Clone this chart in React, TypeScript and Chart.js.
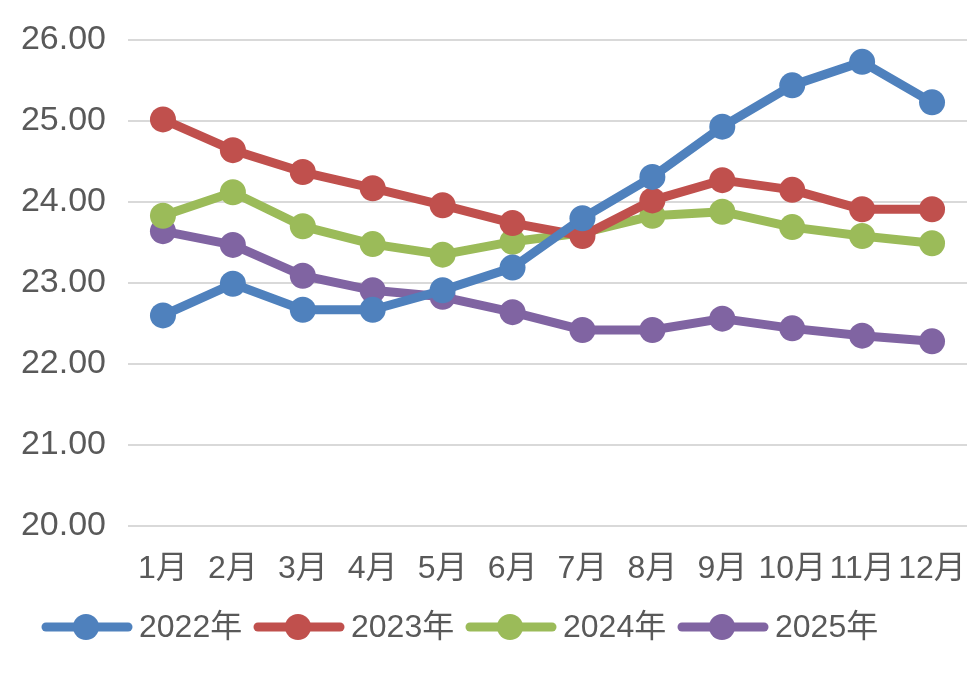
import React, { useEffect, useRef } from "react";
import { Chart, registerables } from "chart.js";
Chart.register(...registerables);

const categories = ["1月", "2月", "3月", "4月", "5月", "6月", "7月", "8月", "9月", "10月", "11月", "12月"];
const series2022 = [22.60, 22.99, 22.67, 22.67, 22.91, 23.19, 23.80, 24.31, 24.93, 25.44, 25.73, 25.23];
const series2023 = [25.02, 24.64, 24.37, 24.17, 23.96, 23.74, 23.58, 24.02, 24.27, 24.15, 23.91, 23.91];
const series2024 = [23.83, 24.12, 23.70, 23.48, 23.35, 23.51, 23.62, 23.83, 23.88, 23.69, 23.58, 23.49];
const series2025 = [23.64, 23.47, 23.09, 22.91, 22.83, 22.64, 22.42, 22.42, 22.56, 22.44, 22.35, 22.28];
const seriesNames = ["2022年", "2023年", "2024年", "2025年"];
const colors = ["#4F81BD", "#C0504D", "#9BBB59", "#8064A2"];

const FONT = "'Liberation Sans', Arial, 'Noto Sans CJK SC', sans-serif";
const FONT_SIZE = 32;
const Y_FONT_SIZE = 34;

const legendPlugin = {
  id: "customLegend",
  afterDraw(chart: any) {
    const ctx = chart.ctx;
    const y = 627;
    const startX = 42;
    const step = 212;
    ctx.save();
    chart.data.datasets.forEach((ds: any, i: number) => {
      const x0 = startX + i * step;
      ctx.strokeStyle = ds.borderColor;
      ctx.lineWidth = 9;
      ctx.lineCap = "round";
      ctx.beginPath();
      ctx.moveTo(x0 + 4, y);
      ctx.lineTo(x0 + 86, y);
      ctx.stroke();
      ctx.fillStyle = ds.borderColor;
      ctx.beginPath();
      ctx.arc(x0 + 44, y, 13, 0, Math.PI * 2);
      ctx.fill();
      ctx.fillStyle = "#595959";
      ctx.font = `${FONT_SIZE}px ${FONT}`;
      ctx.textBaseline = "middle";
      ctx.textAlign = "left";
      ctx.fillText(ds.label, x0 + 97, y + 1);
    });
    ctx.restore();
  },
};

export default function App() {
  const ref = useRef<HTMLCanvasElement | null>(null);
  useEffect(() => {
    document.body.style.margin = "0";
    const all = [series2022, series2023, series2024, series2025];
    const chart = new Chart(ref.current as HTMLCanvasElement, {
      type: "line",
      data: {
        labels: categories,
        datasets: all.map((d, i) => ({
          label: seriesNames[i],
          data: d,
          borderColor: colors[i],
          backgroundColor: colors[i],
          borderWidth: 9,
          pointRadius: 13,
          pointHoverRadius: 13,
          pointBorderWidth: 0,
          pointBackgroundColor: colors[i],
          tension: 0,
          borderCapStyle: "round",
          borderJoinStyle: "round",
        })),
      },
      options: {
        animation: false,
        responsive: false,
        maintainAspectRatio: false,
        layout: { padding: { left: 0, right: 11, top: 40, bottom: 89 } },
        plugins: { legend: { display: false }, tooltip: { enabled: false } },
        scales: {
          x: {
            offset: true,
            grid: { display: false, drawTicks: false },
            border: { display: false },
            ticks: { color: "#595959", font: { size: FONT_SIZE, family: FONT }, padding: 24, maxRotation: 0, autoSkip: false },
            afterFit(scale: any) {
              scale.height = 60;
              scale.paddingLeft = 0;
              scale.paddingRight = 0;
            },
          },
          y: {
            min: 20,
            max: 26,
            ticks: {
              stepSize: 1,
              color: "#595959",
              font: { size: Y_FONT_SIZE, family: FONT },
              padding: 22,
              callback: (v: any) => Number(v).toFixed(2),
            },
            grid: { color: "#D9D9D9", lineWidth: 2, drawTicks: false },
            border: { display: false },
            afterFit(scale: any) {
              scale.width = 128;
              scale.paddingTop = 0;
              scale.paddingBottom = 0;
            },
          },
        },
      },
      plugins: [legendPlugin],
    });
    return () => chart.destroy();
  }, []);
  return <canvas ref={ref} width={980} height={675} style={{ display: "block" }} />;
}
